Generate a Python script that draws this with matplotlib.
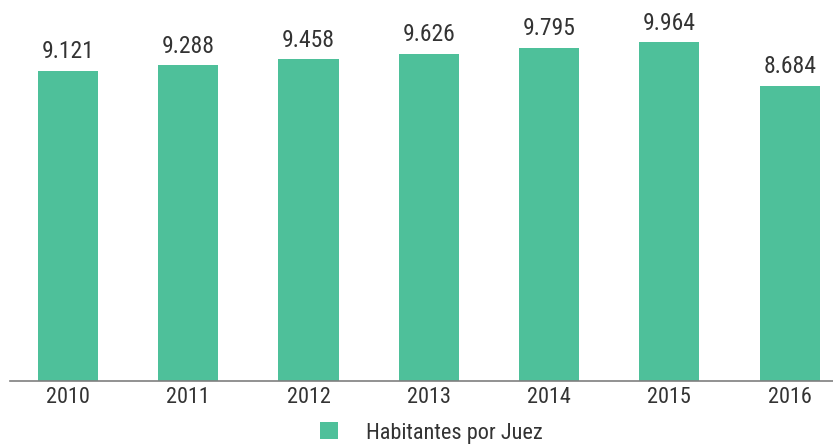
import matplotlib.pyplot as plt

years = ["2010", "2011", "2012", "2013", "2014", "2015", "2016"]
habitantes = [9121, 9288, 9458, 9626, 9795, 9964, 8684]
series_name = "Habitantes por Juez"

bar_color = "#4ec09a"
text_color = "#333333"

plt.rcParams['font.family'] = ['Roboto Condensed', 'Roboto', 'DejaVu Sans']

fig = plt.figure(figsize=(8.33, 4.47), dpi=100)
ax = fig.add_axes([10 / 833, 66 / 447, 823 / 833, 381 / 447])

x = list(range(len(years)))
bars = ax.bar(x, habitantes, width=0.5, color=bar_color, label=series_name)

for xi, v in zip(x, habitantes):
    label = f"{v:,}".replace(",", ".")
    ax.annotate(label, (xi, v), xytext=(0, 9), textcoords="offset points",
                ha="center", va="baseline", fontsize=17, color=text_color)

ax.set_xlim(-0.482, 6.36)
ax.set_ylim(0, 11206)
ax.set_xticks(x)
ax.set_xticklabels(years, fontsize=16, color=text_color)
ax.tick_params(axis='x', length=0, pad=4)
ax.set_yticks([])
for side in ["top", "right", "left"]:
    ax.spines[side].set_visible(False)
ax.spines["bottom"].set_color("#7f7f7f")
ax.spines["bottom"].set_linewidth(1.2)

leg = ax.legend(loc="center left", bbox_to_anchor=(320 / 833, 1 - 433 / 447),
                bbox_transform=fig.transFigure, frameon=False, fontsize=16,
                handlelength=0.8, handleheight=0.8, handletextpad=1.25,
                borderpad=0, borderaxespad=0)
for t in leg.get_texts():
    t.set_color(text_color)

fig.savefig("out.png", dpi=100)
